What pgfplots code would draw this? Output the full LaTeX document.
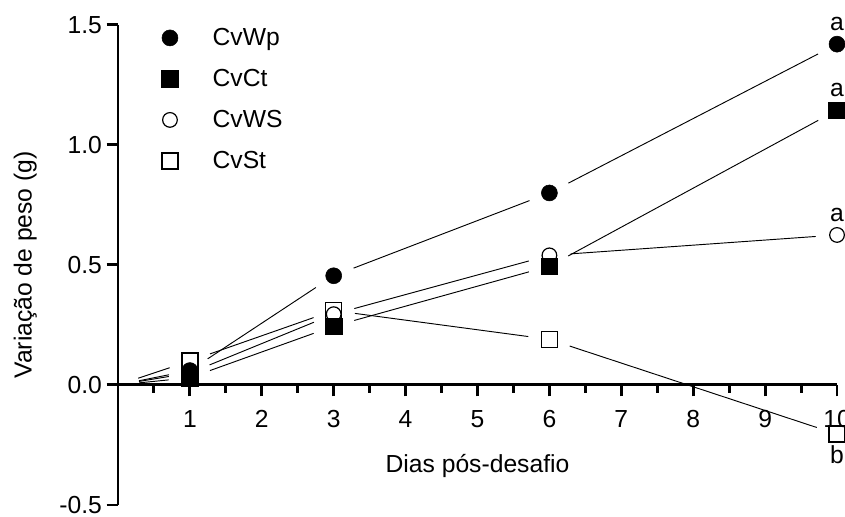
\documentclass[border=0pt]{standalone}
\usepackage{fontspec}
\setmainfont{Liberation Sans}
\usepackage{pgfplots}
\pgfplotsset{compat=1.18}

\begin{document}
\begin{tikzpicture}[font=\fontsize{18.5}{22}\selectfont]
\begin{axis}[
  font=\fontsize{18.5}{22}\selectfont,
  x=53.925pt, y=180pt,
  xmin=0, xmax=10, ymin=-0.5, ymax=1.5,
  axis x line=middle, axis y line=left,
  axis line style={-, line width=2.2pt, black},
  clip=false,
  xtick={1,2,3,4,5,6,7,8,9,10},
  xticklabels={1,2,3,4,5,6,7,8,9,10},
  minor xtick={0.5,1.5,2.5,3.5,4.5,5.5,6.5,7.5,8.5,9.5},
  ytick={-0.5,0,0.5,1,1.5},
  yticklabels={-0.5,0.0,0.5,1.0,1.5},
  xtick align=center, ytick align=outside,
  major tick length=8.5pt, minor tick length=6pt,
  every tick/.style={black, line width=2.2pt},
  major x tick style={yshift=-4.25pt},
  minor x tick style={yshift=-3pt},
  xticklabel style={anchor=north, yshift=-11.5pt},
  xlabel={Dias pós-desafio},
  ylabel={Variação de peso (g)},
  xlabel style={at={(axis description cs:0.5,0.081)}, anchor=center},
  ylabel style={at={(axis description cs:-0.129,0.5)}, anchor=center, rotate=0},
  legend style={draw=none, fill=none, inner sep=0pt, outer sep=0pt,
    at={(axis cs:0.556,1.496)}, anchor=north west, row sep=12.75pt,
    nodes={inner sep=0pt}},
  legend cell align=left,
  legend image code/.code={\draw[#1] plot coordinates {(0pt,0pt)}; \path[draw=none,fill=none] (-9pt,-9pt) (32pt,9pt);},
  seg/.style={black, line width=0.7pt, shorten >=16pt, shorten <=16pt, forget plot, mark=none},
]
% legend entries
\addlegendimage{only marks, mark=*, mark size=6pt, black}
\addlegendentry{CvWp}
\addlegendimage{only marks, mark=square*, mark size=6.2pt, black}
\addlegendentry{CvCt}
\addlegendimage{only marks, mark=o, mark size=5.5pt, black, mark options={line width=0.9pt, fill=white}}
\addlegendentry{CvWS}
\addlegendimage{only marks, mark=square, mark size=6pt, black, mark options={line width=1.1pt, fill=white}}
\addlegendentry{CvSt}

% connecting segments (gapped at the symbols)
% CvWp
\addplot[seg] coordinates {(0,0) (1,0.06)};
\addplot[seg] coordinates {(1,0.06) (3,0.455)};
\addplot[seg] coordinates {(3,0.455) (6,0.80)};
\addplot[seg] coordinates {(6,0.80) (10,1.42)};
% CvCt
\addplot[seg] coordinates {(0,0) (1,0.03)};
\addplot[seg] coordinates {(1,0.03) (3,0.245)};
\addplot[seg] coordinates {(3,0.245) (6,0.495)};
\addplot[seg] coordinates {(6,0.495) (10,1.145)};
% CvWS
\addplot[seg] coordinates {(0,0) (1,0.05)};
\addplot[seg] coordinates {(1,0.05) (3,0.295)};
\addplot[seg] coordinates {(3,0.295) (6,0.54)};
\addplot[seg] coordinates {(6,0.54) (10,0.625)};
% CvSt
\addplot[seg] coordinates {(0,0) (1,0.10)};
\addplot[seg] coordinates {(1,0.10) (3,0.31)};
\addplot[seg] coordinates {(3,0.31) (6,0.19)};
\addplot[seg] coordinates {(6,0.19) (10,-0.205)};

% symbols
\addplot[only marks, mark=square*, mark size=6.2pt, black, forget plot]
  coordinates {(1,0.03) (3,0.245) (6,0.495) (10,1.145)};
\addplot[only marks, mark=*, mark size=6pt, black, forget plot]
  coordinates {(1,0.06) (3,0.455) (6,0.80) (10,1.42)};
\addplot[only marks, mark=square, mark size=6pt, black, mark options={line width=1.1pt, fill=white}, forget plot]
  coordinates {(1,0.10) (3,0.31) (6,0.19) (10,-0.205)};
\addplot[only marks, mark=o, mark size=5.5pt, black, mark options={line width=0.9pt, fill=white}, forget plot]
  coordinates {(1,0.05) (3,0.295) (6,0.54) (10,0.625)};

% significance letters
\node[anchor=base, yshift=10pt] at (axis cs:10,1.42) {a};
\node[anchor=base, yshift=10pt] at (axis cs:10,1.145) {a};
\node[anchor=base, yshift=10pt] at (axis cs:10,0.625) {a};
\node[anchor=base, yshift=-21.75pt] at (axis cs:10,-0.205) {b};

\coordinate (bbsw) at (axis cs:-1.641,-0.546);
\coordinate (bbne) at (axis cs:10.111,1.604);
\end{axis}
\pgfresetboundingbox
\path[use as bounding box] (bbsw) rectangle (bbne);
\end{tikzpicture}
\end{document}
